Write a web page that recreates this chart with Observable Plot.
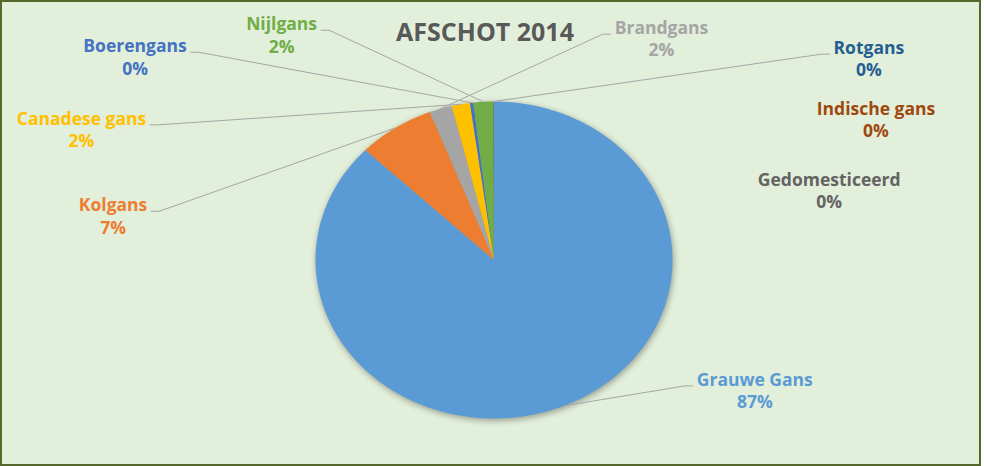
<!DOCTYPE html>
<html><head><meta charset="utf-8">
<script src="https://cdn.jsdelivr.net/npm/d3@7"></script>
<script src="https://cdn.jsdelivr.net/npm/@observablehq/plot@0.6"></script>
<style>
body{margin:0;background:#fff;}
#frame{position:absolute;left:0;top:0;width:981px;height:466px;box-sizing:border-box;border:2px solid #55672b;background:#e2efda;}
#chart{position:absolute;left:0;top:0;}
</style></head><body>
<div id="frame"></div><div id="chart"></div>
<script>
const title = "AFSCHOT 2014";
const categories = ["Grauwe Gans","Kolgans","Brandgans","Canadese gans","Boerengans","Nijlgans","Rotgans","Indische gans","Gedomesticeerd"];
const shares = [87.2, 6.95, 2.05, 1.65, 0.3, 1.8, 0.03, 0.01, 0.01];
const colors = ["#5B9BD5","#ED7D31","#A5A5A5","#FFC000","#4472C4","#70AD47","#255E91","#9E480E","#636363"];
// label placement in pie units (radius = 1), at the baseline of the percentage line
const labelX = [1.461,-2.134,0.938,-2.311,-2.011,-1.190,2.100,2.140,1.878];
const labelY = [-0.935,0.167,1.284,0.712,1.170,1.309,1.158,0.773,0.325];
const hasLeader = [true,true,true,true,true,true,true,false,false];

const FONT = "Open Sans";
const fs = 17.5, lh = 22.3;
const xDef = {domain: [-1, 1], range: [315, 672]};
const yDef = {domain: [-1, 1], range: [418, 101]};
const xs = Plot.scale({x: xDef});
const ys = Plot.scale({y: yDef});

const data = categories.map((name, i) => ({name, value: shares[i]}));
const total = d3.sum(shares);
const fmt = d3.format(".0%");
const arcs = d3.pie().sort(null).value(d => d.value).startAngle(0).endAngle(2 * Math.PI)(data);

const slicePts = arcs.flatMap(a => {
  const name = a.data.name;
  const n = Math.max(2, Math.ceil((a.endAngle - a.startAngle) / (Math.PI / 360)));
  const pts = [{name, x: 0, y: 0}];
  for (let i = 0; i <= n; i++) {
    const t = a.startAngle + (a.endAngle - a.startAngle) * i / n;
    pts.push({name, x: Math.sin(t), y: Math.cos(t)});
  }
  pts.push({name, x: 0, y: 0});
  return pts;
});

const ctx = document.createElement("canvas").getContext("2d");
ctx.font = `700 ${fs}px '${FONT}'`;

const labels = arcs.map((a, i) => ({
  name: a.data.name,
  text: a.data.name + "\n" + fmt(a.data.value / total),
  x: labelX[i], y: labelY[i]
}));

const leaders = arcs.flatMap((a, i) => {
  if (!hasLeader[i]) return [];
  const name = a.data.name;
  const X = xs.apply(labelX[i]);
  const Y1 = ys.apply(labelY[i]) - lh;
  const w = ctx.measureText(name).width;
  const left = X < xs.apply(0);
  const sx = left ? X + w / 2 + 4 : X - w / 2 - 4;
  const kx = left ? sx + 8 : sx - 8;
  const m = (a.startAngle + a.endAngle) / 2;
  return [
    {name, x: xs.invert(sx), y: ys.invert(Y1)},
    {name, x: xs.invert(kx), y: ys.invert(Y1)},
    {name, x: Math.sin(m), y: Math.cos(m)}
  ];
});

const plot = Plot.plot({
  width: 984, height: 466, margin: 0,
  x: {...xDef, axis: null},
  y: {...yDef, axis: null},
  color: {domain: categories, range: colors},
  style: {background: "transparent", fontFamily: FONT, overflow: "visible"},
  marks: [
    Plot.line(slicePts, {x: "x", y: "y", z: "name", fill: "name", stroke: "none", curve: "linear"}),
    Plot.line(leaders, {x: "x", y: "y", z: "name", stroke: "#a6a6a6", strokeWidth: 1, curve: "linear"}),
    Plot.text(labels, {x: "x", y: "y", text: "text", fill: "name", fontSize: fs, fontWeight: 700,
      lineAnchor: "bottom", lineHeight: lh / fs}),
    Plot.text([title], {text: d => d, frameAnchor: "top", dx: -7.5, dy: 40.7, lineAnchor: "bottom",
      fontSize: 25, fontWeight: 700, fill: "#595959"})
  ]
});
const g = plot.querySelector('g[aria-label="line"]');
if (g) g.style.filter = "drop-shadow(1px 2px 3px rgba(0,0,0,0.35))";
document.getElementById("chart").appendChild(plot);
</script>
</body></html>
